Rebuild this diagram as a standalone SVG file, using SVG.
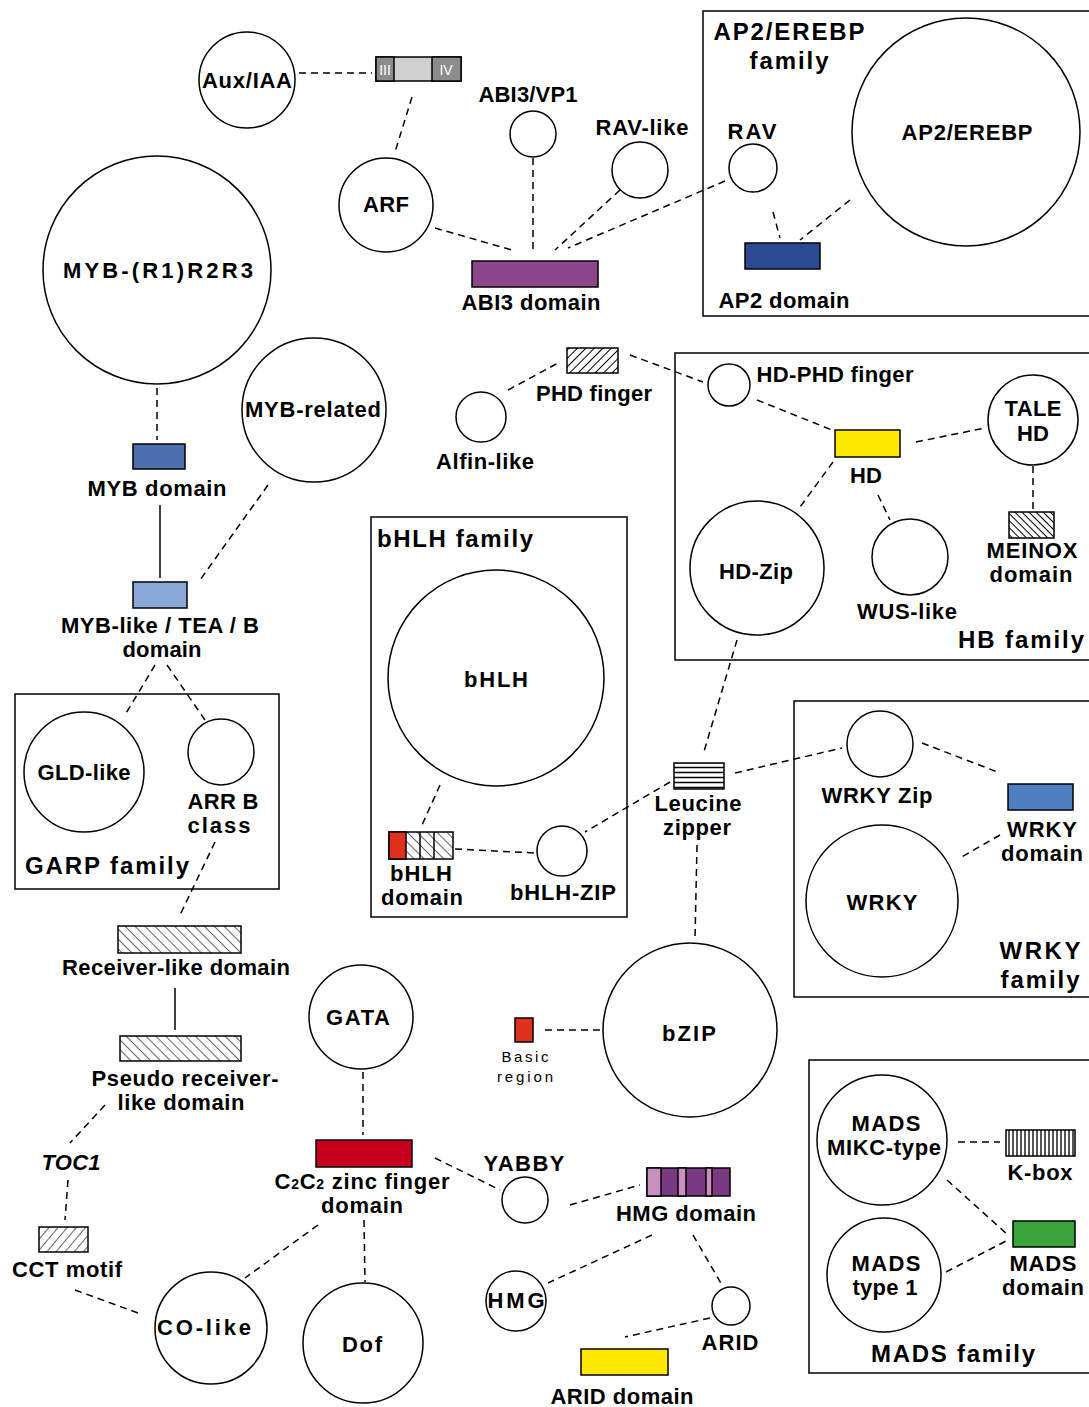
<svg xmlns="http://www.w3.org/2000/svg" width="1089" height="1407" viewBox="0 0 1089 1407">
<defs>
<pattern id="hf" width="6" height="6" patternUnits="userSpaceOnUse" patternTransform="rotate(45)"><rect width="6" height="6" fill="#fff"/><line x1="0" y1="0" x2="0" y2="6" stroke="#000" stroke-width="2"/></pattern>
<pattern id="hb" width="7" height="7" patternUnits="userSpaceOnUse" patternTransform="rotate(-45)"><rect width="7" height="7" fill="#fff"/><line x1="0" y1="0" x2="0" y2="7" stroke="#000" stroke-width="1.2"/></pattern>
<pattern id="hbd" width="5" height="5" patternUnits="userSpaceOnUse" patternTransform="rotate(-45)"><rect width="5" height="5" fill="#fff"/><line x1="0" y1="0" x2="0" y2="5" stroke="#000" stroke-width="2"/></pattern>
<pattern id="hfs" width="7" height="7" patternUnits="userSpaceOnUse" patternTransform="rotate(40)"><rect width="7" height="7" fill="#fff"/><line x1="0" y1="0" x2="0" y2="7" stroke="#000" stroke-width="1.2"/></pattern>
<pattern id="hz" width="100" height="5" patternUnits="userSpaceOnUse"><rect width="100" height="5" fill="#fff"/><line x1="0" y1="2.5" x2="100" y2="2.5" stroke="#000" stroke-width="1.5"/></pattern>
<pattern id="vt" width="4" height="40" patternUnits="userSpaceOnUse"><rect width="4" height="40" fill="#fff"/><rect x="0" y="0" width="2" height="40" fill="#555"/></pattern>
</defs>
<style>
text{font-family:"Liberation Sans",Arial,sans-serif;font-weight:bold;font-size:22px;text-anchor:middle;fill:#000}
.sm{font-weight:normal;font-size:15px}
.tt{font-size:24px}
circle{fill:#fff;stroke:#000;stroke-width:1.5}
.fr{fill:none;stroke:#000;stroke-width:1.5}
.bx{stroke:#000;stroke-width:1.5}
.c line{stroke:#000;stroke-width:1.5;stroke-dasharray:7 5}
.c line.s{stroke-dasharray:none}
</style>
<rect width="1089" height="1407" fill="#fff"/>
<g id="frames">
<rect id="ap2-family" class="fr" x="703" y="11" width="390" height="305"/>
<rect id="hb-family" class="fr" x="675" y="353" width="418" height="307"/>
<rect id="bhlh-family" class="fr" x="371" y="517" width="256" height="400"/>
<rect id="garp-family" class="fr" x="15" y="694" width="264" height="195"/>
<rect id="wrky-family" class="fr" x="794" y="701" width="299" height="296"/>
<rect id="mads-family" class="fr" x="809" y="1060" width="284" height="313"/>
</g>
<g id="connectors" class="c">
<line x1="299" y1="73" x2="372" y2="73"/>
<line x1="412" y1="97" x2="395" y2="152"/>
<line x1="435" y1="228" x2="512" y2="250"/>
<line x1="533" y1="158" x2="533" y2="253"/>
<line x1="620" y1="190" x2="555" y2="250"/>
<line x1="725" y1="181" x2="568" y2="248"/>
<line x1="773" y1="212" x2="780" y2="238"/>
<line x1="850" y1="200" x2="800" y2="240"/>
<line x1="157" y1="388" x2="157" y2="440"/>
<line class="s" x1="160" y1="505" x2="160" y2="578"/>
<line x1="268" y1="485" x2="200" y2="580"/>
<line x1="155" y1="665" x2="125" y2="715"/>
<line x1="167" y1="665" x2="205" y2="720"/>
<line x1="215" y1="842" x2="180" y2="915"/>
<line class="s" x1="175" y1="988" x2="175" y2="1030"/>
<line x1="105" y1="1105" x2="70" y2="1143"/>
<line x1="68" y1="1180" x2="65" y2="1220"/>
<line x1="75" y1="1290" x2="138" y2="1313"/>
<line x1="508" y1="390" x2="560" y2="362"/>
<line x1="630" y1="355" x2="703" y2="382"/>
<line x1="757" y1="400" x2="832" y2="430"/>
<line x1="916" y1="442" x2="985" y2="428"/>
<line x1="833" y1="462" x2="800" y2="507"/>
<line x1="878" y1="495" x2="890" y2="520"/>
<line x1="1033" y1="466" x2="1033" y2="510"/>
<line x1="737" y1="640" x2="703" y2="755"/>
<line x1="670" y1="782" x2="585" y2="832"/>
<line x1="735" y1="773" x2="842" y2="748"/>
<line x1="922" y1="743" x2="1000" y2="773"/>
<line x1="1000" y1="835" x2="960" y2="858"/>
<line x1="440" y1="785" x2="422" y2="825"/>
<line x1="455" y1="849" x2="535" y2="853"/>
<line x1="697" y1="845" x2="695" y2="940"/>
<line x1="545" y1="1030" x2="600" y2="1030"/>
<line x1="363" y1="1072" x2="363" y2="1135"/>
<line x1="435" y1="1158" x2="500" y2="1190"/>
<line x1="318" y1="1225" x2="245" y2="1278"/>
<line x1="364" y1="1220" x2="365" y2="1282"/>
<line x1="570" y1="1205" x2="640" y2="1185"/>
<line x1="652" y1="1235" x2="548" y2="1283"/>
<line x1="693" y1="1235" x2="722" y2="1285"/>
<line x1="710" y1="1318" x2="625" y2="1337"/>
<line x1="958" y1="1142" x2="1000" y2="1142"/>
<line x1="947" y1="1180" x2="1008" y2="1235"/>
<line x1="946" y1="1272" x2="1008" y2="1240"/>
</g>
<g id="n-auxiaa"><circle cx="247" cy="80" r="48"/><text x="247" y="88" textLength="90">Aux/IAA</text></g>
<g id="n-auxdomain">
<rect x="376" y="57" width="85" height="24" fill="#d0d0d0" class="bx"/>
<rect x="376" y="57" width="18" height="24" fill="#8c8c8c" class="bx"/>
<rect x="432" y="57" width="29" height="24" fill="#8c8c8c" class="bx"/>
<text x="385" y="75" style="font-size:14px;fill:#fff;font-weight:normal">III</text>
<text x="446" y="75" style="font-size:14px;fill:#fff;font-weight:normal">IV</text>
</g>
<g id="n-arf"><circle cx="386" cy="205" r="47"/><text x="386" y="212" textLength="46">ARF</text></g>
<g id="n-abi3vp1"><circle cx="533" cy="134" r="23"/><text x="528" y="102" textLength="99">ABI3/VP1</text></g>
<g id="n-ravlike"><circle cx="640" cy="170" r="28"/><text x="642" y="135" textLength="93">RAV-like</text></g>
<g id="n-rav"><circle cx="753" cy="168" r="24"/><text x="752" y="139" textLength="49">RAV</text></g>
<g id="n-ap2erebp"><circle cx="966" cy="132" r="114"/><text x="967" y="140" textLength="131">AP2/EREBP</text></g>
<g id="l-ap2family"><text class="tt" x="789" y="40" textLength="151">AP2/EREBP</text><text class="tt" x="789" y="69" textLength="79">family</text></g>
<g id="n-abi3domain"><rect x="472" y="261" width="126" height="26" fill="#8b4789" class="bx"/><text x="531" y="310" textLength="139">ABI3 domain</text></g>
<g id="n-ap2domain"><rect x="745" y="243" width="75" height="26" fill="#2b4a94" class="bx"/><text x="784" y="308" textLength="131">AP2 domain</text></g>
<g id="n-myb"><circle cx="157" cy="270" r="114"/><text x="158" y="278" textLength="190">MYB-(R1)R2R3</text></g>
<g id="n-mybrelated"><circle cx="314" cy="410" r="72"/><text x="313" y="417" textLength="136">MYB-related</text></g>
<g id="n-mybdomain"><rect x="133" y="444" width="52" height="25" fill="#4e6faf" class="bx"/><text x="157" y="496" textLength="139">MYB domain</text></g>
<g id="n-myblike"><rect x="133" y="582" width="54" height="26" fill="#88a8d8" class="bx"/><text x="160" y="633" textLength="198">MYB-like / TEA / B</text><text x="162" y="657" textLength="79">domain</text></g>
<g id="n-phd"><rect x="567" y="348" width="51" height="25" fill="url(#hf)" class="bx"/><text x="594" y="401" textLength="116">PHD finger</text></g>
<g id="n-alfin"><circle cx="481" cy="417" r="25"/><text x="485" y="469" textLength="98">Alfin-like</text></g>
<g id="n-hdphd"><circle cx="729" cy="385" r="21"/><text x="835" y="382" textLength="157">HD-PHD finger</text></g>
<g id="n-talehd"><circle cx="1033" cy="420" r="45"/><text x="1033" y="416" textLength="57">TALE</text><text x="1033" y="441" textLength="32">HD</text></g>
<g id="n-hd"><rect x="835" y="430" width="65" height="27" fill="#ffe800" class="bx"/><text x="866" y="483" textLength="32">HD</text></g>
<g id="n-meinox"><rect x="1009" y="512" width="45" height="26" fill="url(#hbd)" class="bx"/><text x="1032" y="558" textLength="91">MEINOX</text><text x="1031" y="582" textLength="83">domain</text></g>
<g id="n-hdzip"><circle cx="757" cy="568" r="67"/><text x="756" y="579" textLength="74">HD-Zip</text></g>
<g id="n-wus"><circle cx="910" cy="557" r="38"/><text x="907" y="619" textLength="100">WUS-like</text></g>
<text class="tt" x="1021" y="648" textLength="126">HB family</text>
<text class="tt" x="455" y="547" textLength="156">bHLH family</text>
<g id="n-bhlh"><circle cx="496" cy="678" r="108"/><text x="496" y="687" textLength="64">bHLH</text></g>
<g id="n-bhlhdomain">
<rect x="389" y="832" width="64" height="27" fill="url(#hb)" class="bx"/>
<rect x="389" y="832" width="17" height="27" fill="#e0301e" class="bx"/>
<line x1="420" y1="832" x2="420" y2="859" stroke="#000" stroke-width="1.5"/>
<line x1="434" y1="832" x2="434" y2="859" stroke="#000" stroke-width="1.5"/>
<text x="421" y="881" textLength="62">bHLH</text><text x="422" y="905" textLength="82">domain</text></g>
<g id="n-bhlhzip"><circle cx="562" cy="851" r="25"/><text x="563" y="900" textLength="106">bHLH-ZIP</text></g>
<g id="n-gld"><circle cx="84" cy="772" r="60"/><text x="84" y="780" textLength="93">GLD-like</text></g>
<g id="n-arrb"><circle cx="221" cy="752" r="33"/><text x="223" y="809" textLength="71">ARR B</text><text x="219" y="833" textLength="63">class</text></g>
<text class="tt" x="107" y="874" textLength="164">GARP family</text>
<g id="n-leucine"><rect x="674" y="763" width="50" height="26" fill="url(#hz)" class="bx"/><text x="698" y="811" textLength="87">Leucine</text><text x="697" y="835" textLength="68">zipper</text></g>
<g id="n-wrkyzip"><circle cx="880" cy="744" r="33"/><text x="877" y="803" textLength="111">WRKY Zip</text></g>
<g id="n-wrkydomain"><rect x="1008" y="784" width="65" height="26" fill="#4e7fc0" class="bx"/><text x="1042" y="837" textLength="70">WRKY</text><text x="1042" y="861" textLength="82">domain</text></g>
<g id="n-wrky"><circle cx="882" cy="901" r="76"/><text x="882" y="910" textLength="71">WRKY</text></g>
<text class="tt" x="1040" y="959" textLength="81">WRKY</text><text class="tt" x="1040" y="988" textLength="79">family</text>
<g id="n-receiver"><rect x="118" y="926" width="123" height="27" fill="url(#hb)" class="bx"/><text x="176" y="975" textLength="228">Receiver-like domain</text></g>
<g id="n-pseudo"><rect x="120" y="1036" width="121" height="25" fill="url(#hb)" class="bx"/><text x="185" y="1086" textLength="187">Pseudo receiver-</text><text x="181" y="1110" textLength="127">like domain</text></g>
<g id="n-toc1"><text x="71" y="1170" style="font-style:italic" textLength="59">TOC1</text></g>
<g id="n-cct"><rect x="39" y="1227" width="49" height="25" fill="url(#hfs)" class="bx"/><text x="67" y="1277" textLength="110">CCT motif</text></g>
<g id="n-gata"><circle cx="361" cy="1017" r="52"/><text x="358" y="1025" textLength="64">GATA</text></g>
<g id="n-bzip"><circle cx="690" cy="1030" r="87"/><text x="689" y="1041" textLength="54">bZIP</text></g>
<g id="n-basic"><rect x="515" y="1018" width="18" height="24" fill="#e0301e" class="bx"/><text class="sm" x="525" y="1062" textLength="47">Basic</text><text class="sm" x="525" y="1082" textLength="56">region</text></g>
<g id="n-c2c2"><rect x="316" y="1140" width="96" height="27" fill="#c8001e" class="bx"/><text x="362" y="1189" textLength="175">C<tspan style="font-size:14px">2</tspan>C<tspan style="font-size:14px">2</tspan> zinc finger</text><text x="362" y="1213" textLength="82">domain</text></g>
<g id="n-yabby"><circle cx="525" cy="1200" r="23"/><text x="524" y="1171" textLength="81">YABBY</text></g>
<g id="n-hmgdomain">
<rect x="647" y="1168" width="83" height="28" fill="#7a3a82" class="bx"/>
<rect x="647" y="1168" width="14" height="28" fill="#c890c0" class="bx"/>
<rect x="678" y="1168" width="8" height="28" fill="#c890c0" class="bx"/>
<rect x="706" y="1168" width="6" height="28" fill="#c890c0" class="bx"/>
<text x="686" y="1221" textLength="140">HMG domain</text></g>
<g id="n-hmg"><circle cx="516" cy="1301" r="30"/><text x="516" y="1308" textLength="57">HMG</text></g>
<g id="n-arid"><circle cx="731" cy="1306" r="19"/><text x="730" y="1350" textLength="57">ARID</text></g>
<g id="n-ariddomain"><rect x="581" y="1349" width="87" height="26" fill="#ffe800" class="bx"/><text x="622" y="1404" textLength="143">ARID domain</text></g>
<g id="n-colike"><circle cx="211" cy="1328" r="56"/><text x="204" y="1335" textLength="94">CO-like</text></g>
<g id="n-dof"><circle cx="363" cy="1343" r="60"/><text x="362" y="1352" textLength="40">Dof</text></g>
<g id="n-mikc"><circle cx="882" cy="1140" r="65"/><text x="886" y="1131" textLength="69">MADS</text><text x="884" y="1155" textLength="114">MIKC-type</text></g>
<g id="n-kbox"><rect x="1006" y="1130" width="69" height="26" fill="url(#vt)" class="bx"/><text x="1040" y="1180" textLength="65">K-box</text></g>
<g id="n-madstype1"><circle cx="884" cy="1275" r="57"/><text x="886" y="1271" textLength="69">MADS</text><text x="885" y="1295" textLength="65">type 1</text></g>
<g id="n-madsdomain"><rect x="1013" y="1221" width="62" height="26" fill="#3aa53a" class="bx"/><text x="1043" y="1271" textLength="67">MADS</text><text x="1043" y="1295" textLength="82">domain</text></g>
<text class="tt" x="953" y="1362" textLength="164">MADS family</text>
</svg>
